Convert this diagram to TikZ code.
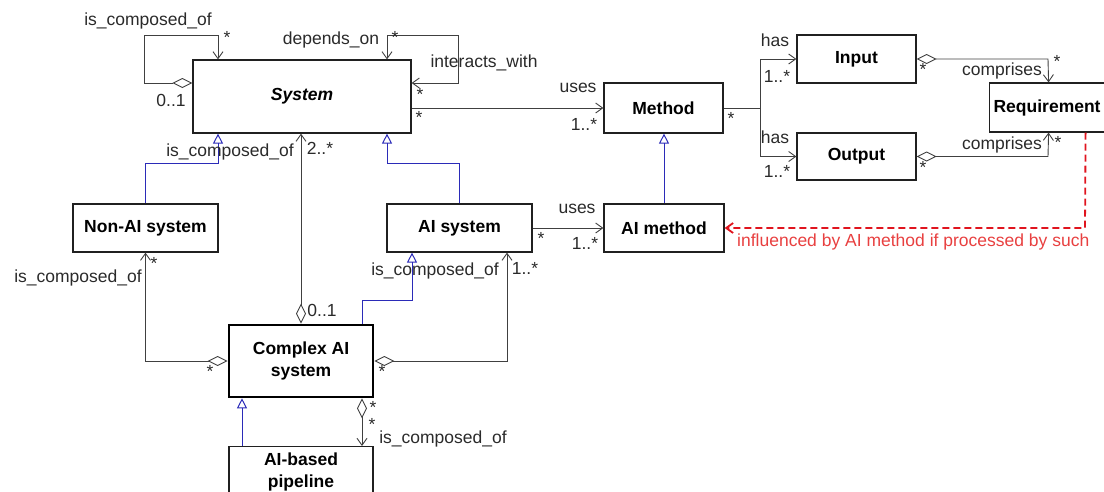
\documentclass[tikz,border=0pt]{standalone}
\usepackage{fontspec}
\setmainfont{Liberation Sans}
\usetikzlibrary{arrows.meta,calc}
\definecolor{ln}{HTML}{404040}
\definecolor{bx}{HTML}{202020}
\definecolor{gb}{HTML}{2B2BB8}
\definecolor{rd}{HTML}{E0141E}
\definecolor{rt}{HTML}{E84040}
\definecolor{tx}{HTML}{2A2A2A}
\tikzset{
  box/.style={draw=bx, line width=1.2pt, fill=white, font=\fontsize{17.5}{22}\selectfont\bfseries, align=center, inner sep=0pt},
  lab/.style={font=\fontsize{17.5}{22}\selectfont, text=tx, inner sep=0pt},
  assoc/.style={draw=ln, line width=0.9pt},
  arr/.style={assoc, -{Straight Barb[length=7pt,width=10pt]}},
  bothArr/.style={assoc, {Straight Barb[length=7pt,width=10pt]}-{Straight Barb[length=7pt,width=10pt]}},
  aggArr/.style={assoc, {Diamond[open,length=20pt,width=10pt]}-{Straight Barb[length=7pt,width=10pt]}},
  gen/.style={draw=gb, line width=1pt, -{Triangle[open,length=10pt,width=10pt]}},
  infl/.style={draw=rd, line width=1.8pt, dash pattern=on 7pt off 4pt, -{Straight Barb[length=7pt,width=10pt]}}
}
\begin{document}
\begin{tikzpicture}[x=1pt,y=-1pt]
\useasboundingbox (0,0) rectangle (1104,491);
\clip (0,0) rectangle (1104,491);
% boxes
\node[box, minimum width=218pt, minimum height=73pt, font=\fontsize{17.5}{22}\selectfont\bfseries\itshape] (sys) at (302,96.5) {System};
\node[box, minimum width=119pt, minimum height=50pt] (method) at (663.5,108) {Method};
\node[box, minimum width=119pt, minimum height=48pt] (input) at (856.5,59) {Input};
\node[box, minimum width=119pt, minimum height=47pt] (output) at (856.5,156.5) {Output};
\node[box, anchor=west, minimum width=140pt, minimum height=49pt, text width=132pt, align=left] (req) at (989,107.5) {Requirement};
\node[box, minimum width=145pt, minimum height=48pt] (nonai) at (145.5,228) {Non-AI system};
\node[box, minimum width=145pt, minimum height=48pt] (aisys) at (459.5,228) {AI system};
\node[box, minimum width=120pt, minimum height=48pt] (aimeth) at (664,228) {AI method};
\node[box, line width=2.6pt, draw=black, minimum width=144pt, minimum height=72pt] (cplx) at (301,361) {Complex AI\\system};
\node[box, anchor=north, minimum width=144pt, minimum height=50pt] (pipe) at (301,446) {AI-based\\pipeline};
\coordinate (mj) at (760,108);
% associations
\draw[aggArr] ([yshift=13.5pt]sys.west) -- (144,83) -- (144,35) -- (218,35) -- ([xshift=-84pt]sys.north);
\draw[bothArr] ([xshift=85pt]sys.north) -- (387,35) -- (458,35) -- (458,83) -- ([yshift=13.5pt]sys.east);
\draw[arr] ([yshift=-11.5pt]sys.east) -- (method.west);
\draw[assoc] (method.east) -- (mj);
\draw[arr] (mj) |- (input.west);
\draw[arr] (mj) |- (output.west);
\draw[aggArr] (input.east) -- (1048,59) -- ([xshift=-11pt]req.north);
\draw[aggArr] (output.east) -- (1048,156.5) -- ([xshift=-11pt]req.south);
\draw[arr] (aisys.east) -- (aimeth.west);
\draw[aggArr] (cplx.north) -- (cplx.north |- sys.south);
\draw[aggArr] (cplx.west) -| (nonai.south);
\draw[aggArr] (cplx.east) -| ([xshift=47.5pt]aisys.south);
\draw[aggArr] ([xshift=61pt]cplx.south) -- ([xshift=61pt]pipe.north);
% generalizations
\draw[gen] (aisys.north) -- (459.5,163) -- (387,163) -- ([xshift=85pt]sys.south);
\draw[gen] (nonai.north) -- (145.5,163) -- (218,163) -- ([xshift=-84pt]sys.south);
\draw[gen] (aimeth.north) -- (aimeth.north |- method.south);
\draw[gen] ([xshift=61pt]cplx.north) -- (362,300) -- (412,300) -- ([xshift=-47.5pt]aisys.south);
\draw[gen] ([xshift=-59pt]pipe.north) -- ([xshift=-59pt]cplx.south);
% influence
\draw[infl] ([xshift=26pt]req.south) -- (1085,228) -- (aimeth.east);
% labels
\node[lab] (l1) at (148,21) {is\_composed\_of};
\node[lab] (l2) at (227,37) {*};
\node[lab] (l3) at (171,100) {0..1};
\node[lab] (l4) at (331,40) {depends\_on};
\node[lab] (l5) at (395,37) {*};
\node[lab] (l6) at (484,63) {interacts\_with};
\node[lab] (l7) at (420,94) {*};
\node[lab] (l8) at (419,117) {*};
\node[lab] (l9) at (578,88) {uses};
\node[lab] (l10) at (584,124) {1..*};
\node[lab] (l11) at (731,118) {*};
\node[lab] (l12) at (775,40) {has};
\node[lab] (l13) at (777,76) {1..*};
\node[lab] (l14) at (775,137) {has};
\node[lab] (l15) at (777,171) {1..*};
\node[lab] (l16) at (923,69) {*};
\node[lab] (l17) at (1002,71) {comprises};
\node[lab] (l18) at (1057,61) {*};
\node[lab] (l19) at (1002,145) {comprises};
\node[lab] (l20) at (1058,142) {*};
\node[lab] (l21) at (923,167) {*};
\node[lab] (l22) at (230,152) {is\_composed\_of};
\node[lab] (l23) at (320,148) {2..*};
\node[lab] (l24) at (78,278) {is\_composed\_of};
\node[lab] (l25) at (154,263) {*};
\node[lab] (l26) at (322,310) {0..1};
\node[lab] (l27) at (210,371) {*};
\node[lab] (l28) at (435,271) {is\_composed\_of};
\node[lab] (l29) at (525,268) {1..*};
\node[lab] (l30) at (382,371) {*};
\node[lab] (l31) at (577,209) {uses};
\node[lab] (l32) at (541,238) {*};
\node[lab] (l33) at (585,243) {1..*};
\node[lab] (l34) at (373,407) {*};
\node[lab] (l35) at (372,424) {*};
\node[lab] (l36) at (443,439) {is\_composed\_of};
\node[lab, text=rt, anchor=west] (l37) at (737,242) {influenced by AI method if processed by such};
\end{tikzpicture}
\end{document}
